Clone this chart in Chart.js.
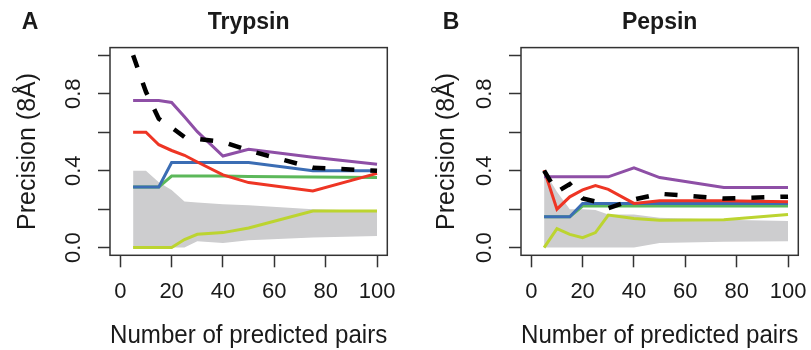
<!DOCTYPE html>
<html>
<head>
<meta charset="utf-8">
<script src="https://cdn.jsdelivr.net/npm/chart.js@4.4.0/dist/chart.umd.min.js"></script>
<style>
body { margin: 0; background: #fff; }
#wrap { position: relative; width: 811px; height: 350px; }
canvas { position: absolute; top: 0; }
#panelA { left: 0; }
#panelB { left: 411px; }
</style>
</head>
<body>
<div id="wrap">
  <canvas id="panelA" width="400" height="350"></canvas>
  <canvas id="panelB" width="400" height="350"></canvas>
</div>
<script>
var pairs = [5, 10, 15, 20, 25, 30, 40, 50, 75, 100];
var xTicks = [0, 20, 40, 60, 80, 100];
var yTicks = [0, 0.2, 0.4, 0.6, 0.8, 1.0];
var yTickLabels = ['0.0', '', '0.4', '', '0.8', ''];

// Trypsin
var trypDashed = [1.00, 0.81, 0.67, 0.625, 0.575, 0.565, 0.55, 0.505, 0.415, 0.40];
var trypPurple = [0.765, 0.765, 0.765, 0.755, 0.68, 0.603, 0.476, 0.511, 0.47, 0.433];
var trypRed    = [0.60, 0.60, 0.535, 0.505, 0.48, 0.445, 0.378, 0.338, 0.295, 0.386];
var trypBlue   = [0.315, 0.315, 0.315, 0.442, 0.442, 0.442, 0.442, 0.442, 0.40, 0.40];
var trypGreen  = [0.315, 0.315, 0.315, 0.372, 0.372, 0.372, 0.372, 0.37, 0.367, 0.365];
var trypYellow = [0, 0, 0, 0, 0.042, 0.069, 0.078, 0.102, 0.19, 0.19];
var trypBandHi = [0.40, 0.40, 0.34, 0.30, 0.24, 0.235, 0.225, 0.22, 0.20, 0.19];
var trypBandLo = [0, 0, 0, 0, 0, 0.033, 0.024, 0.038, 0.052, 0.06];

// Pepsin
var pepDashed = [0.40, 0.29, 0.33, 0.255, 0.24, 0.205, 0.25, 0.28, 0.255, 0.265];
var pepPurple = [0.368, 0.368, 0.368, 0.368, 0.368, 0.368, 0.415, 0.364, 0.313, 0.313];
var pepRed    = [0.403, 0.20, 0.264, 0.30, 0.322, 0.303, 0.23, 0.243, 0.243, 0.238];
var pepBlue   = [0.16, 0.16, 0.16, 0.23, 0.23, 0.23, 0.23, 0.23, 0.23, 0.23];
var pepGreen  = [0.16, 0.16, 0.16, 0.216, 0.216, 0.216, 0.216, 0.216, 0.216, 0.216];
var pepYellow = [0, 0.099, 0.069, 0.052, 0.078, 0.169, 0.151, 0.142, 0.145, 0.172];
var pepBandHi = [0.40, 0.29, 0.20, 0.20, 0.195, 0.172, 0.172, 0.155, 0.145, 0.139];
var pepBandLo = [0, 0, 0, 0, 0, 0, 0, 0.024, 0.03, 0.033];

var FONT = "'Liberation Sans', Arial, Helvetica, sans-serif";
var INK = '#1a1a1a';

function toPoints(vals) {
    return vals.map(function (v, i) { return { x: pairs[i], y: v }; });
}

function line(vals, color, order) {
    return {
        data: toPoints(vals),
        borderColor: color,
        borderWidth: 3,
        pointRadius: 0,
        fill: false,
        order: order
    };
}

// frame round the plot area + panel letter
var framePlugin = {
    id: 'frame',
    afterDraw: function (chart) {
        var a = chart.chartArea, ctx = chart.ctx;
        var opt = chart.options.plugins.frame;
        ctx.save();
        ctx.strokeStyle = '#333';
        ctx.lineWidth = 1.5;
        ctx.strokeRect(a.left, a.top, a.right - a.left, a.bottom - a.top);
        ctx.fillStyle = INK;
        ctx.font = 'bold 23px ' + FONT;
        ctx.textAlign = 'center';
        ctx.textBaseline = 'middle';
        ctx.fillText(opt.letter, opt.letterX, 23);
        ctx.restore();
    }
};

function panel(id, letter, letterX, name, yTitlePad, s) {
    var ctx = document.getElementById(id).getContext('2d');
    var dashed = line(s.dashed, '#000', 1);
    dashed.borderWidth = 4.5;
    dashed.borderDash = [13, 16];
    var lo = line(s.lo, 'rgba(0,0,0,0)', 20);
    var hi = line(s.hi, 'rgba(0,0,0,0)', 20);
    hi.fill = '-1';
    hi.backgroundColor = '#cdcdcf';

    return new Chart(ctx, {
        type: 'line',
        data: {
            datasets: [lo, hi,
                line(s.yellow, '#bcd430', 7),
                line(s.green, '#5cb85a', 6),
                line(s.blue, '#3b6db4', 5),
                line(s.red, '#ee3524', 4),
                line(s.purple, '#8e4fa6', 3),
                dashed]
        },
        options: {
            responsive: false,
            devicePixelRatio: 1,
            animation: false,
            events: [],
            layout: { padding: { left: 0, right: 12.7, top: 0, bottom: 0 } },
            plugins: {
                legend: { display: false },
                tooltip: { enabled: false },
                title: {
                    display: true,
                    text: name,
                    fullSize: false,
                    color: INK,
                    font: { family: FONT, size: 23, weight: 'bold' },
                    padding: { top: 9, bottom: 11 }
                },
                frame: { letter: letter, letterX: letterX }
            },
            scales: {
                x: {
                    type: 'linear',
                    min: -4,
                    max: 104,
                    afterBuildTicks: function (sc) {
                        sc.ticks = xTicks.map(function (v) { return { value: v }; });
                    },
                    afterFit: function (sc) {
                        sc.height = 94.7;
                        sc.paddingLeft = 0;
                        sc.paddingRight = 0;
                    },
                    border: { display: false },
                    grid: { drawOnChartArea: false, tickLength: 12, tickWidth: 1.5, tickColor: '#333' },
                    ticks: {
                        autoSkip: false, maxRotation: 0, padding: 11,
                        color: INK, font: { family: FONT, size: 22 },
                        callback: function (v) { return String(v); }
                    },
                    title: {
                        display: true, text: 'Number of predicted pairs', color: INK,
                        font: { family: FONT, size: 25, lineHeight: 1.1 }, padding: { top: 0, bottom: 0 }
                    }
                },
                y: {
                    type: 'linear',
                    min: -0.04,
                    max: 1.04,
                    afterBuildTicks: function (sc) {
                        sc.ticks = yTicks.map(function (v) { return { value: v }; });
                    },
                    afterFit: function (sc) {
                        sc.width = 110;
                        sc.paddingTop = 0;
                        sc.paddingBottom = 0;
                    },
                    border: { display: false },
                    grid: { drawOnChartArea: false, tickLength: 12, tickWidth: 1.5, tickColor: '#333' },
                    ticks: {
                        autoSkip: false, minRotation: 90, maxRotation: 90,
                        crossAlign: 'center', padding: 9,
                        color: INK, font: { family: FONT, size: 22 },
                        callback: function (v, i) { return yTickLabels[i]; }
                    },
                    title: {
                        display: true, text: 'Precision (8Å)', color: INK,
                        font: { family: FONT, size: 25 }, padding: { top: yTitlePad, bottom: 0 }
                    }
                }
            }
        },
        plugins: [framePlugin]
    });
}

panel('panelA', 'A', 30, 'Trypsin', 13, {
    dashed: trypDashed, purple: trypPurple, red: trypRed, blue: trypBlue,
    green: trypGreen, yellow: trypYellow, hi: trypBandHi, lo: trypBandLo
});
panel('panelB', 'B', 40, 'Pepsin', 21, {
    dashed: pepDashed, purple: pepPurple, red: pepRed, blue: pepBlue,
    green: pepGreen, yellow: pepYellow, hi: pepBandHi, lo: pepBandLo
});
</script>
</body>
</html>
